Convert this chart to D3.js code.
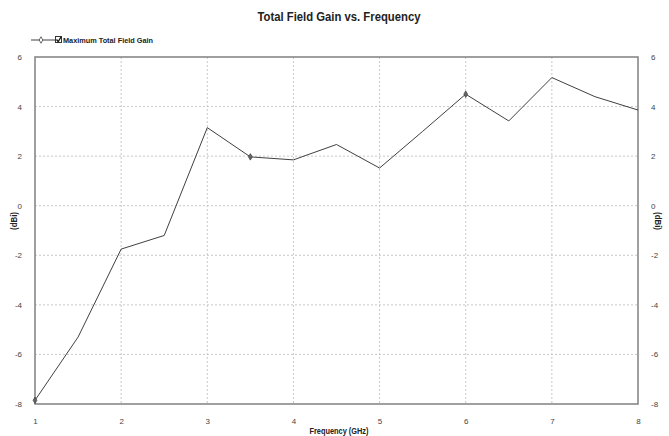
<!DOCTYPE html>
<html>
<head>
<meta charset="utf-8">
<script src="https://cdn.jsdelivr.net/npm/d3@7"></script>
<style>
  body { margin: 0; background: #fff; }
  text { font-family: "Liberation Sans", Arial, sans-serif; }
</style>
</head>
<body>
<div id="chart"></div>
<script>
// data
let freqs = [1, 1.5, 2, 2.5, 3, 3.5, 4, 4.5, 5, 5.5, 6, 6.5, 7, 7.5, 8];
let gains = [-7.85, -5.3, -1.75, -1.2, 3.15, 1.97, 1.85, 2.47, 1.52, 3.0, 4.5, 3.42, 5.17, 4.4, 3.86];
let markerIdx = [0, 5, 10];
let xTicks = [1, 2, 3, 4, 5, 6, 7, 8];
let yTicks = [-8, -6, -4, -2, 0, 2, 4, 6];
let seriesName = "Maximum Total Field Gain";

var width = 669, height = 436;
var margin = {top: 57, right: 31, bottom: 32, left: 35};
var w = width - margin.left - margin.right,
    h = height - margin.top - margin.bottom;

var svg = d3.select("#chart").append("svg")
    .attr("width", width)
    .attr("height", height);

var g = svg.append("g")
    .attr("transform", `translate(${margin.left},${margin.top})`);

var x = d3.scaleLinear().domain([1, 8]).range([0, w]);
var y = d3.scaleLinear().domain([-8, 6]).range([h, 0]);

// grid
g.append("g").selectAll("line").data(xTicks.slice(1, -1)).join("line")
    .attr("x1", d => x(d)).attr("x2", d => x(d))
    .attr("y1", 0).attr("y2", h)
    .attr("stroke", "#c8c8c8").attr("stroke-dasharray", "2,2");
g.append("g").selectAll("line").data(yTicks.slice(1, -1)).join("line")
    .attr("y1", d => y(d)).attr("y2", d => y(d))
    .attr("x1", 0).attr("x2", w)
    .attr("stroke", "#c8c8c8").attr("stroke-dasharray", "2,2");

// axes (plain hyphen for minus, like the original)
var fmt = d => String(d);
var tickStyle = a => a.call(g => g.select(".domain").remove())
    .call(g => g.selectAll("line").remove())
    .call(g => g.selectAll("text").attr("fill", "#444")
        .style("font-family", "Liberation Sans, Arial, sans-serif").style("font-size", "8px"));

g.append("g").attr("transform", `translate(0,${h})`)
    .call(d3.axisBottom(x).tickValues(xTicks).tickFormat(fmt).tickPadding(8))
    .call(tickStyle);
g.append("g")
    .call(d3.axisLeft(y).tickValues(yTicks).tickFormat(fmt).tickPadding(7))
    .call(tickStyle);
g.append("g").attr("transform", `translate(${w},0)`)
    .call(d3.axisRight(y).tickValues(yTicks).tickFormat(fmt).tickPadding(7))
    .call(tickStyle);

// frame
g.append("rect").attr("width", w).attr("height", h)
    .attr("fill", "none").attr("stroke", "#808080").attr("stroke-width", 1.5);

// line
var line = d3.line().x((d, i) => x(freqs[i])).y(d => y(d));
g.append("path").datum(gains)
    .attr("d", line)
    .attr("fill", "none").attr("stroke", "#404040").attr("stroke-width", 1);

var diamond = d3.symbol().type(d3.symbolDiamond).size(12);
g.append("g").selectAll("path").data(markerIdx).join("path")
    .attr("transform", i => `translate(${x(freqs[i])},${y(gains[i])})`)
    .attr("d", diamond)
    .attr("fill", "#666").attr("stroke", "#444").attr("stroke-width", 0.8);

// titles
svg.append("text").attr("x", 339).attr("y", 21)
    .attr("text-anchor", "middle").attr("font-weight", "bold")
    .attr("textLength", 163).attr("lengthAdjust", "spacingAndGlyphs")
    .style("font-size", "12px").attr("fill", "#222")
    .text("Total Field Gain vs. Frequency");

svg.append("text").attr("x", 339).attr("y", 434)
    .attr("text-anchor", "middle").attr("font-weight", "bold")
    .attr("textLength", 59).attr("lengthAdjust", "spacingAndGlyphs")
    .style("font-size", "8.5px").attr("fill", "#222")
    .text("Frequency (GHz)");

svg.append("text").attr("transform", "translate(17,221) rotate(-90)")
    .attr("text-anchor", "middle").attr("font-weight", "bold")
    .attr("textLength", 18).attr("lengthAdjust", "spacingAndGlyphs")
    .style("font-size", "9px").attr("fill", "#222")
    .text("(dBi)");
svg.append("text").attr("transform", "translate(655,221) rotate(90)")
    .attr("text-anchor", "middle").attr("font-weight", "bold")
    .attr("textLength", 18).attr("lengthAdjust", "spacingAndGlyphs")
    .style("font-size", "9px").attr("fill", "#222")
    .text("(dBi)");

// legend
var lg = svg.append("g").attr("transform", "translate(31,40)");
lg.append("line").attr("x1", 0).attr("x2", 24).attr("y1", 0).attr("y2", 0)
    .attr("stroke", "#404040");
lg.append("path").attr("transform", "translate(10,0)").attr("d", diamond)
    .attr("fill", "#fff").attr("stroke", "#404040").attr("stroke-width", 0.8);
lg.append("rect").attr("x", 24.5).attr("y", -3.5).attr("width", 6).attr("height", 6)
    .attr("fill", "#fff").attr("stroke", "#333");
lg.append("path").attr("d", "M25.5,-0.5 L27.2,1.6 L30,-3")
    .attr("fill", "none").attr("stroke", "#111").attr("stroke-width", 1.3);
lg.append("text").attr("x", 32).attr("y", 3)
    .attr("font-weight", "bold").style("font-size", "8px").attr("fill", "#222")
    .attr("textLength", 90).attr("lengthAdjust", "spacingAndGlyphs")
    .text(seriesName);
</script>
</body>
</html>
